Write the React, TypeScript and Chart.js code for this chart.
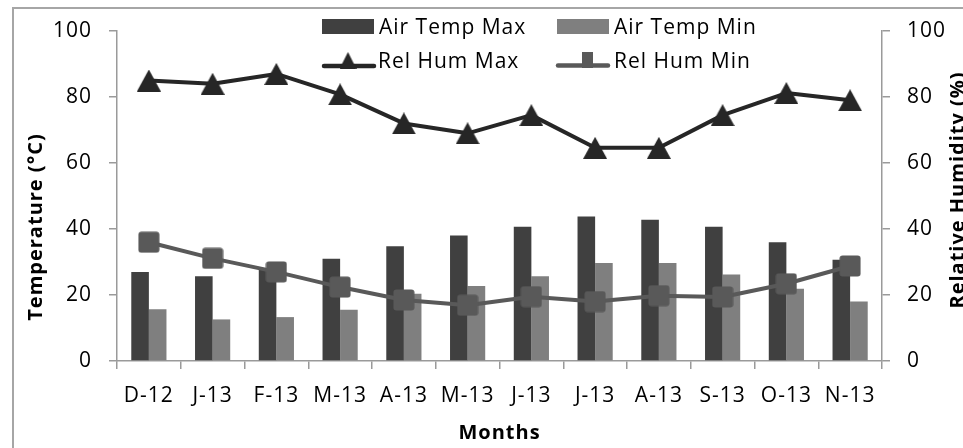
import React, { useEffect, useRef } from 'react';
import { Chart, registerables } from 'chart.js';

Chart.register(...registerables);

// ---- data ----
const months = ['D-12', 'J-13', 'F-13', 'M-13', 'A-13', 'M-13', 'J-13', 'J-13', 'A-13', 'S-13', 'O-13', 'N-13'];
const airTempMax = [27.0, 25.7, 27.8, 31.0, 34.8, 38.0, 40.7, 43.8, 42.8, 40.7, 36.0, 30.7];
const airTempMin = [15.7, 12.6, 13.3, 15.5, 20.4, 22.7, 25.7, 29.7, 29.7, 26.2, 21.9, 18.0];
const relHumMax = [85.0, 84.0, 87.0, 80.8, 72.0, 69.0, 74.5, 64.6, 64.6, 74.5, 81.2, 79.0];
const relHumMin = [36.0, 31.1, 27.0, 22.4, 18.5, 16.9, 19.5, 18.0, 19.8, 19.4, 23.4, 28.8];
const seriesNames = ['Air Temp Max', 'Air Temp Min', 'Rel Hum Max', 'Rel Hum Min'];
const axisTicks = [0, 20, 40, 60, 80, 100];
const xTitle = 'Months';
const yTitle = 'Temperature (°C)';
const y1Title = 'Relative Humidity (%)';

// ---- styles ----
const COL_MAX = '#404040';
const COL_MIN = '#7f7f7f';
const COL_RHMAX = '#262626';
const COL_RHMIN = '#595959';
const AXIS = '#9a9a9a';
const FONT = "'Open Sans', sans-serif";

function makeTriangle(w: number, h: number, color: string) {
  const c = document.createElement('canvas');
  c.width = w; c.height = h;
  const g = c.getContext('2d')!;
  g.fillStyle = color;
  g.beginPath();
  g.moveTo(w / 2, 0);
  g.lineTo(w, h);
  g.lineTo(0, h);
  g.closePath();
  g.fill();
  return c;
}

function makeSquare(w: number, h: number, color: string) {
  const c = document.createElement('canvas');
  c.width = w; c.height = h;
  const g = c.getContext('2d')!;
  g.fillStyle = color;
  g.beginPath();
  (g as any).roundRect(0.5, 0.5, w - 1, h - 1, 3);
  g.fill();
  return c;
}

export default function App() {
  const ref = useRef<HTMLCanvasElement>(null);

  useEffect(() => {
    const canvas = ref.current!;
    const tri = makeTriangle(24, 22, COL_RHMAX);
    const sq = makeSquare(22, 22, COL_RHMIN);
    const triLeg = makeTriangle(17, 17, COL_RHMAX);

    const spacing = {
      id: 'spacing',
      beforeDraw(c: any) {
        c.ctx.letterSpacing = '1px';
      },
    };

    const decor = {
      id: 'decor',
      afterDraw(c: any) {
        const ctx = c.ctx as CanvasRenderingContext2D;
        const area = c.chartArea;
        ctx.save();
        (ctx as any).letterSpacing = '1px';
        ctx.fillStyle = '#000';
        // axis titles
        ctx.font = `bold 20px ${FONT}`;
        ctx.textBaseline = 'alphabetic';
        ctx.textAlign = 'center';
        ctx.fillText(xTitle, (area.left + area.right) / 2, 439);

        ctx.save();
        ctx.translate(42, 227);
        ctx.rotate(-Math.PI / 2);
        ctx.fillText(yTitle, 0, 0);
        ctx.restore();

        ctx.save();
        ctx.translate(964, 190);
        ctx.rotate(-Math.PI / 2);
        ctx.fillText(y1Title, 0, 0);
        ctx.restore();

        // legend
        ctx.font = `21px ${FONT}`;
        ctx.textAlign = 'left';
        ctx.fillStyle = COL_MAX;
        ctx.fillRect(322, 19, 52, 15);
        ctx.fillStyle = COL_MIN;
        ctx.fillRect(557, 19, 52, 15);
        ctx.fillStyle = '#000';
        ctx.fillText(seriesNames[0], 379, 34);
        ctx.fillText(seriesNames[1], 614, 34);

        ctx.lineCap = 'round';
        ctx.lineWidth = 4.5;
        ctx.strokeStyle = COL_RHMAX;
        ctx.beginPath();
        ctx.moveTo(324, 66);
        ctx.lineTo(374, 66);
        ctx.stroke();
        ctx.drawImage(triLeg, 348 - 8.5, 52);
        ctx.strokeStyle = COL_RHMIN;
        ctx.beginPath();
        ctx.moveTo(558, 65.5);
        ctx.lineTo(608, 65.5);
        ctx.stroke();
        ctx.fillStyle = COL_RHMIN;
        ctx.fillRect(582, 52, 11, 16);
        ctx.fillStyle = '#000';
        ctx.fillText(seriesNames[2], 378, 68);
        ctx.fillText(seriesNames[3], 614, 68);
        ctx.restore();
      },
    };

    const yTicks = (s: any) => {
      s.ticks = axisTicks.map((v) => ({ value: v }));
    };

    const chart = new Chart(canvas, {
      type: 'bar',
      data: {
        labels: months,
        datasets: [
          {
            type: 'bar',
            label: seriesNames[0],
            data: airTempMax,
            backgroundColor: COL_MAX,
            yAxisID: 'y',
            order: 2,
            categoryPercentage: 0.552,
            barPercentage: 1,
          },
          {
            type: 'bar',
            label: seriesNames[1],
            data: airTempMin,
            backgroundColor: COL_MIN,
            yAxisID: 'y',
            order: 2,
            categoryPercentage: 0.552,
            barPercentage: 1,
          },
          {
            type: 'line',
            label: seriesNames[2],
            data: relHumMax,
            borderColor: COL_RHMAX,
            backgroundColor: COL_RHMAX,
            borderWidth: 4,
            borderJoinStyle: 'round',
            borderCapStyle: 'round',
            pointStyle: tri as any,
            pointRadius: 10,
            tension: 0,
            yAxisID: 'y1',
            order: 1,
          },
          {
            type: 'line',
            label: seriesNames[3],
            data: relHumMin,
            borderColor: COL_RHMIN,
            backgroundColor: COL_RHMIN,
            borderWidth: 4,
            borderJoinStyle: 'round',
            borderCapStyle: 'round',
            pointStyle: sq as any,
            pointRadius: 10,
            tension: 0,
            yAxisID: 'y1',
            order: 0,
          },
        ] as any,
      },
      options: {
        responsive: false,
        animation: false,
        events: [],
        layout: { padding: { top: 31, left: 0, right: 0, bottom: 0 } },
        font: { family: FONT, size: 21 },
        color: '#000',
        plugins: {
          legend: { display: false },
          tooltip: { enabled: false },
        },
        scales: {
          x: {
            offset: true,
            afterFit: (s: any) => { s.height = 87; },
            grid: {
              offset: true,
              drawOnChartArea: false,
              drawTicks: true,
              tickLength: 8,
              color: AXIS,
              lineWidth: 1.5,
            },
            border: { display: true, color: AXIS, width: 1.5 },
            ticks: {
              color: '#000',
              font: { family: FONT, size: 21 },
              padding: 14,
              autoSkip: false,
              maxRotation: 0,
              minRotation: 0,
            },
          },
          y: {
            position: 'left',
            min: 0,
            max: 100,
            afterFit: (s: any) => { s.width = 117; },
            afterBuildTicks: yTicks,
            grid: {
              drawOnChartArea: false,
              drawTicks: true,
              tickLength: 8,
              color: AXIS,
              lineWidth: 1.5,
            },
            border: { display: true, color: AXIS, width: 1.5 },
            ticks: {
              color: '#000',
              font: { family: FONT, size: 21 },
              padding: 17,
            },
          },
          y1: {
            position: 'right',
            min: 0,
            max: 100,
            afterFit: (s: any) => { s.width = 81; },
            afterBuildTicks: yTicks,
            grid: {
              drawOnChartArea: false,
              drawTicks: true,
              tickLength: 8,
              color: AXIS,
              lineWidth: 1.5,
            },
            border: { display: true, color: AXIS, width: 1.5 },
            ticks: {
              color: '#000',
              font: { family: FONT, size: 21 },
              padding: 17,
            },
          },
        },
      } as any,
      plugins: [spacing, decor],
    });

    return () => chart.destroy();
  }, []);

  return (
    <div
      style={{
        position: 'fixed',
        left: 0,
        top: 0,
        width: 963,
        height: 448,
        overflow: 'hidden',
        background: '#fff',
      }}
    >
      <div
        style={{
          position: 'absolute',
          left: 12,
          top: 7,
          width: 1200,
          height: 1200,
          borderLeft: '2px solid #a6a6a6',
          borderTop: '2px solid #a6a6a6',
        }}
      />
      <canvas
        ref={ref}
        width={963}
        height={448}
        style={{ position: 'absolute', left: 0, top: 0, width: 963, height: 448 }}
      />
    </div>
  );
}
